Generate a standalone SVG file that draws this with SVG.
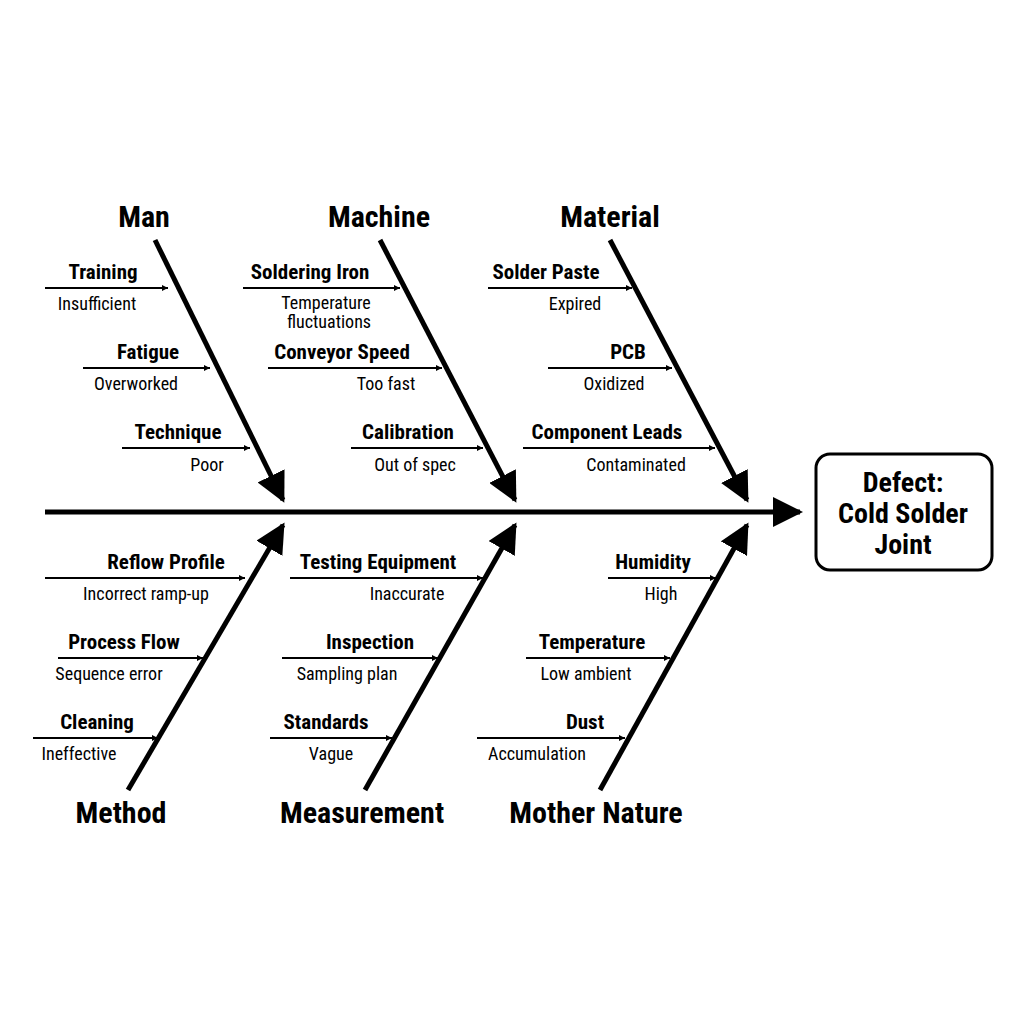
<svg xmlns="http://www.w3.org/2000/svg" width="1024" height="1024" viewBox="0 0 1024 1024">
<style>
text{font-family:"Roboto Condensed","Liberation Sans Narrow",Roboto,"Liberation Sans",sans-serif;fill:#000;text-anchor:middle}
.cat{font-size:30px;font-weight:bold}
.box{font-size:28px;font-weight:bold}
.sub{font-size:21px;font-weight:bold}
.det{font-size:18px}
.bone{stroke:#000;stroke-width:5;fill:none}
.sa{stroke:#000;stroke-width:2;fill:none;marker-end:url(#sm)}
</style>
<defs>
<marker id="sm" viewBox="0 0 10 10" refX="10" refY="5" markerWidth="6" markerHeight="6" markerUnits="userSpaceOnUse" orient="auto"><path d="M0,0L10,5L0,10z"/></marker>
<marker id="bm" viewBox="0 0 10 10" refX="9" refY="5" markerWidth="6" markerHeight="6" orient="auto"><path d="M0,0L10,5L0,10z"/></marker>
</defs>
<rect width="1024" height="1024" fill="#fff"/>
<g id="connectors">
<line class="bone" x1="45" y1="512" x2="800" y2="512" marker-end="url(#bm)"/>
<line class="bone" x1="155" y1="240" x2="283" y2="500" marker-end="url(#bm)"/>
<line class="bone" x1="380" y1="240" x2="515" y2="500" marker-end="url(#bm)"/>
<line class="bone" x1="610" y1="240" x2="747" y2="500" marker-end="url(#bm)"/>
<line class="bone" x1="128" y1="790" x2="283" y2="525" marker-end="url(#bm)"/>
<line class="bone" x1="365" y1="790" x2="515" y2="525" marker-end="url(#bm)"/>
<line class="bone" x1="600" y1="790" x2="747" y2="525" marker-end="url(#bm)"/>
<line class="sa" x1="45" y1="288" x2="168" y2="288"/>
<line class="sa" x1="83" y1="368" x2="210" y2="368"/>
<line class="sa" x1="122" y1="448" x2="250" y2="448"/>
<line class="sa" x1="243" y1="288" x2="400" y2="288"/>
<line class="sa" x1="268" y1="368" x2="442" y2="368"/>
<line class="sa" x1="351" y1="448" x2="483" y2="448"/>
<line class="sa" x1="488" y1="288" x2="632" y2="288"/>
<line class="sa" x1="548" y1="368" x2="672" y2="368"/>
<line class="sa" x1="523" y1="448" x2="715" y2="448"/>
<line class="sa" x1="45" y1="578" x2="245" y2="578"/>
<line class="sa" x1="58" y1="658" x2="203" y2="658"/>
<line class="sa" x1="33" y1="738" x2="158" y2="738"/>
<line class="sa" x1="290" y1="578" x2="483" y2="578"/>
<line class="sa" x1="282" y1="658" x2="438" y2="658"/>
<line class="sa" x1="270" y1="738" x2="392" y2="738"/>
<line class="sa" x1="608" y1="578" x2="716" y2="578"/>
<line class="sa" x1="526" y1="658" x2="670" y2="658"/>
<line class="sa" x1="477" y1="738" x2="625" y2="738"/>
</g>
<g id="effect">
<rect x="816" y="454" width="176" height="116" rx="14" fill="#fff" stroke="#000" stroke-width="3"/>
<text class="box" x="903" y="492">Defect:</text>
<text class="box" x="903" y="523">Cold Solder</text>
<text class="box" x="903" y="554">Joint</text>
</g>
<g id="man">
<text class="cat" x="144" y="227">Man</text>
<text class="sub" x="103" y="279">Training</text><text class="det" x="97" y="310">Insufficient</text>
<text class="sub" x="148" y="359">Fatigue</text><text class="det" x="136" y="390">Overworked</text>
<text class="sub" x="178" y="439">Technique</text><text class="det" x="207" y="471">Poor</text>
</g>
<g id="machine">
<text class="cat" x="379" y="227">Machine</text>
<text class="sub" x="310" y="279">Soldering Iron</text><text class="det" x="326" y="309">Temperature</text><text class="det" x="329" y="328">fluctuations</text>
<text class="sub" x="342" y="359">Conveyor Speed</text><text class="det" x="386" y="390">Too fast</text>
<text class="sub" x="408" y="439">Calibration</text><text class="det" x="415" y="471">Out of spec</text>
</g>
<g id="material">
<text class="cat" x="610" y="227">Material</text>
<text class="sub" x="546" y="279">Solder Paste</text><text class="det" x="575" y="310">Expired</text>
<text class="sub" x="628" y="359">PCB</text><text class="det" x="614" y="390">Oxidized</text>
<text class="sub" x="607" y="439">Component Leads</text><text class="det" x="636" y="471">Contaminated</text>
</g>
<g id="method">
<text class="cat" x="121" y="823">Method</text>
<text class="sub" x="166" y="569">Reflow Profile</text><text class="det" x="146" y="600">Incorrect ramp-up</text>
<text class="sub" x="124" y="649">Process Flow</text><text class="det" x="109" y="680">Sequence error</text>
<text class="sub" x="97" y="729">Cleaning</text><text class="det" x="79" y="760">Ineffective</text>
</g>
<g id="measurement">
<text class="cat" x="362" y="823">Measurement</text>
<text class="sub" x="378" y="569">Testing Equipment</text><text class="det" x="407" y="600">Inaccurate</text>
<text class="sub" x="370" y="649">Inspection</text><text class="det" x="347" y="680">Sampling plan</text>
<text class="sub" x="326" y="729">Standards</text><text class="det" x="331" y="760">Vague</text>
</g>
<g id="mothernature">
<text class="cat" x="596" y="823">Mother Nature</text>
<text class="sub" x="653" y="569">Humidity</text><text class="det" x="661" y="600">High</text>
<text class="sub" x="592" y="649">Temperature</text><text class="det" x="586" y="680">Low ambient</text>
<text class="sub" x="585" y="729">Dust</text><text class="det" x="537" y="760">Accumulation</text>
</g>
</svg>
